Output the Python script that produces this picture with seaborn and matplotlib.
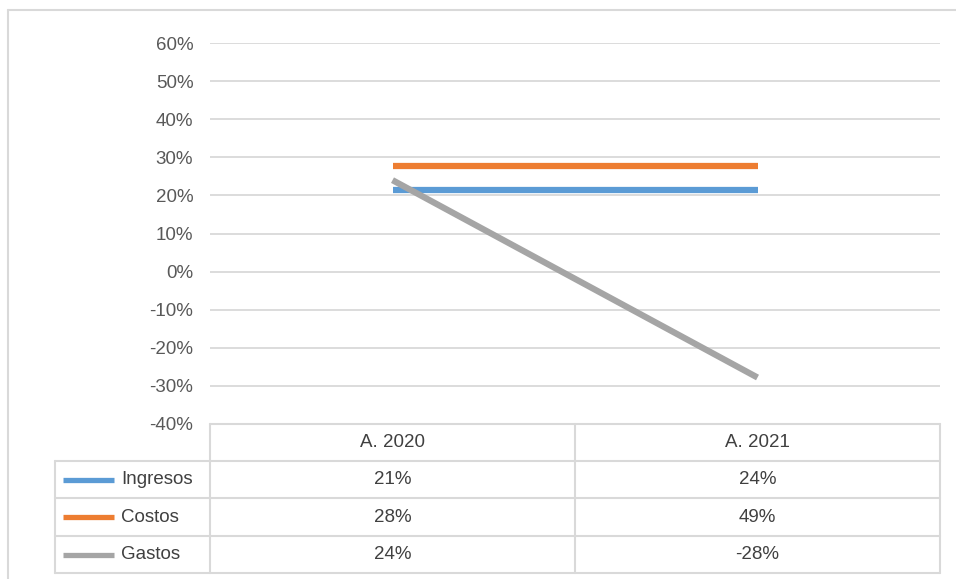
import pandas as pd
import matplotlib.pyplot as plt
import seaborn as sns
from matplotlib.lines import Line2D

# Datos
categorias = ["A. 2020", "A. 2021"]
series = ["Ingresos", "Costos", "Gastos"]
ingresos = [21.5, 21.5]
costos = [27.7, 27.7]
gastos = [24.0, -27.8]
tabla_ingresos = ["21%", "24%"]
tabla_costos = ["28%", "49%"]
tabla_gastos = ["24%", "-28%"]
colores = ["#5B9BD5", "#ED7D31", "#A5A5A5"]

df = pd.DataFrame({
    "anio": categorias * 3,
    "valor": ingresos + costos + gastos,
    "serie": [s for s in series for _ in categorias],
})

sns.set_style("white")
plt.rcParams["font.family"] = ["Liberation Sans", "DejaVu Sans"]

W, H = 956, 579
fig = plt.figure(figsize=(W / 100, H / 100), dpi=100)


def px(x, y):
    return x / W, 1 - y / H


# area del grafico (pixeles de la referencia)
left, right, top, bottom = 210, 940, 43, 424
ax = fig.add_axes([left / W, 1 - bottom / H, (right - left) / W, (bottom - top) / H])

ax.set_yticks(range(-40, 61, 10))
ax.yaxis.grid(True, color="#d9d9d9", lw=1.3)
ax.set_axisbelow(True)

sns.lineplot(data=df, x="anio", y="valor", hue="serie", hue_order=series,
             palette=colores, linewidth=4.5, legend=False, ax=ax, zorder=3)
for ln in ax.lines:
    ln.set_solid_capstyle("butt")

ax.set_xlim(-0.5, 1.5)
ax.set_ylim(-40, 60)
ax.set_yticklabels([f"{v}%" for v in range(-40, 61, 10)])
ax.tick_params(axis="y", length=0, pad=12, labelsize=13.5, labelcolor="#595959")
ax.set_xticks([])
ax.set_xlabel("")
ax.set_ylabel("")
for s in ax.spines.values():
    s.set_visible(False)

gc = "#d9d9d9"


def hline(y, x0, x1):
    fig.add_artist(Line2D([x0 / W, x1 / W], [1 - y / H, 1 - y / H], color=gc, lw=1.5))


def vline(x, y0, y1):
    fig.add_artist(Line2D([x / W, x / W], [1 - y0 / H, 1 - y1 / H], color=gc, lw=1.5))


# marco exterior
hline(10, 8, W)
vline(8, 10, H)

# tabla de datos
filas = [424, 461, 498, 536, 573]
mid = (left + right) / 2
hline(filas[0], left, right)
for y in filas[1:]:
    hline(y, 55, right)
vline(left, filas[0], filas[-1])
vline(mid, filas[0], filas[-1])
vline(right, filas[0], filas[-1])
vline(55, filas[1], filas[-1])

centros = [(left + mid) / 2, (mid + right) / 2]
tc = "#404040"
fs = 13.5
for cx, cat in zip(centros, categorias):
    fig.text(*px(cx, (filas[0] + filas[1]) / 2), cat, ha="center", va="center",
             fontsize=fs, color=tc)

valores_tabla = [tabla_ingresos, tabla_costos, tabla_gastos]
for i, (nombre, col, vals) in enumerate(zip(series, colores, valores_tabla)):
    yc = (filas[i + 1] + filas[i + 2]) / 2
    fig.add_artist(Line2D([63 / W, 114 / W], [1 - yc / H] * 2, color=col, lw=3.8,
                          solid_capstyle="butt"))
    fig.text(*px(121, yc), nombre, ha="left", va="center", fontsize=fs, color=tc)
    for cx, v in zip(centros, vals):
        fig.text(*px(cx, yc), v, ha="center", va="center", fontsize=fs, color=tc)

plt.savefig("out.png", dpi=100, facecolor="white")
